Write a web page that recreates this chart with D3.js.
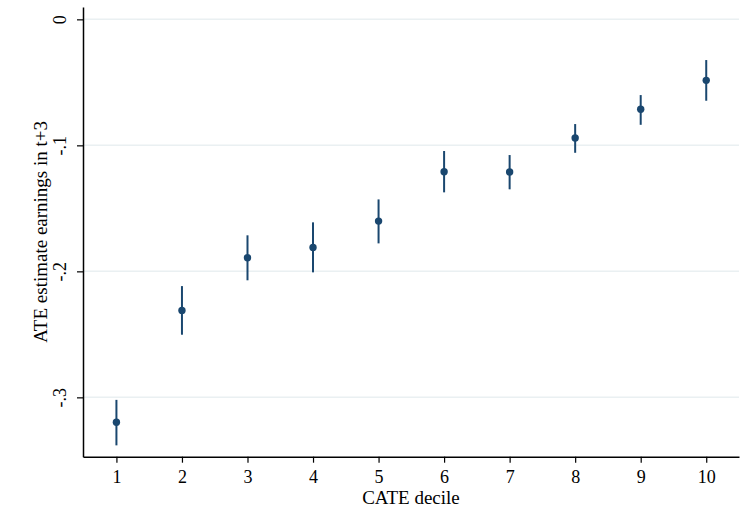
<!DOCTYPE html>
<html>
<head>
<meta charset="utf-8">
<script src="https://cdn.jsdelivr.net/npm/d3@7"></script>
<style>
  body { margin: 0; background: #fff; }
  svg { display: block; font-family: "Liberation Serif", "DejaVu Serif", serif; }
</style>
</head>
<body>
<div id="chart"></div>
<script>
const deciles = [1, 2, 3, 4, 5, 6, 7, 8, 9, 10];
const estimates = [-0.3198, -0.2310, -0.1892, -0.1810, -0.1601, -0.1209, -0.1212, -0.0942, -0.0714, -0.0484];
const ciLow = [-0.3381, -0.2503, -0.2071, -0.2008, -0.1778, -0.1373, -0.1349, -0.1059, -0.0837, -0.0646];
const ciHigh = [-0.3020, -0.2117, -0.1714, -0.1611, -0.1429, -0.1045, -0.1077, -0.0831, -0.0601, -0.0323];
const yTicks = [0, -0.1, -0.2, -0.3];
const yTickLabels = ["0", "-.1", "-.2", "-.3"];

const width = 744;
const height = 531;
const color = "#1a476f";

const x = d3.scaleLinear().domain([0.49, 10.5]).range([83, 739]);
const y = d3.scaleLinear().domain([-0.3471, 0.0098]).range([456.7, 7]);

const svg = d3.select("#chart")
    .append("svg")
    .attr("width", width)
    .attr("height", height);

// gridlines
svg.append("g")
    .selectAll("line")
    .data(yTicks)
    .enter()
    .append("line")
    .attr("x1", x.range()[0])
    .attr("x2", x.range()[1])
    .attr("y1", d => y(d))
    .attr("y2", d => y(d))
    .attr("stroke", "#eaf0f2")
    .attr("stroke-width", 1.5);

// x axis
const xAxis = svg.append("g")
    .attr("transform", `translate(0, ${y.range()[0]})`)
    .call(d3.axisBottom(x).tickValues(deciles).tickSize(6).tickSizeOuter(0).tickFormat(d3.format("d")));
xAxis.select(".domain").attr("stroke", "#000").attr("stroke-width", 1.5);
xAxis.selectAll(".tick line").attr("stroke", "#000").attr("stroke-width", 1.2);
xAxis.selectAll(".tick text")
    .attr("y", 9)
    .attr("dy", "0.95em")
    .style("font-size", "18px")
    .style("font-family", "Liberation Serif")
    .attr("fill", "#000");

// y axis
const yAxis = svg.append("g")
    .attr("transform", `translate(${x.range()[0]}, 0)`)
    .call(d3.axisLeft(y).tickValues(yTicks).tickSize(6).tickSizeOuter(0).tickFormat((d, i) => yTickLabels[i]));
yAxis.select(".domain").attr("stroke", "#000").attr("stroke-width", 1.5);
yAxis.selectAll(".tick line").attr("stroke", "#000").attr("stroke-width", 1.2);
yAxis.selectAll(".tick text")
    .attr("x", null)
    .attr("dy", null)
    .attr("transform", "translate(-17, 0) rotate(-90)")
    .attr("text-anchor", "middle")
    .attr("y", 0)
    .style("font-size", "18px")
    .style("font-family", "Liberation Serif")
    .attr("fill", "#000");

// confidence intervals
svg.append("g")
    .selectAll("line")
    .data(deciles)
    .enter()
    .append("line")
    .attr("x1", d => x(d))
    .attr("x2", d => x(d))
    .attr("y1", (d, i) => y(ciLow[i]))
    .attr("y2", (d, i) => y(ciHigh[i]))
    .attr("stroke", color)
    .attr("stroke-width", 2);

// point estimates
svg.append("g")
    .selectAll("circle")
    .data(deciles)
    .enter()
    .append("circle")
    .attr("cx", d => x(d))
    .attr("cy", (d, i) => y(estimates[i]))
    .attr("r", 3.7)
    .attr("fill", color);

// axis titles
svg.append("text")
    .attr("x", (x.range()[0] + x.range()[1]) / 2)
    .attr("y", 504)
    .attr("text-anchor", "middle")
    .style("font-size", "19px")
    .text("CATE decile");

svg.append("text")
    .attr("transform", `translate(47, ${(y.range()[0] + y.range()[1]) / 2}) rotate(-90)`)
    .attr("text-anchor", "middle")
    .style("font-size", "19px")
    .text("ATE estimate earnings in t+3");
</script>
</body>
</html>
